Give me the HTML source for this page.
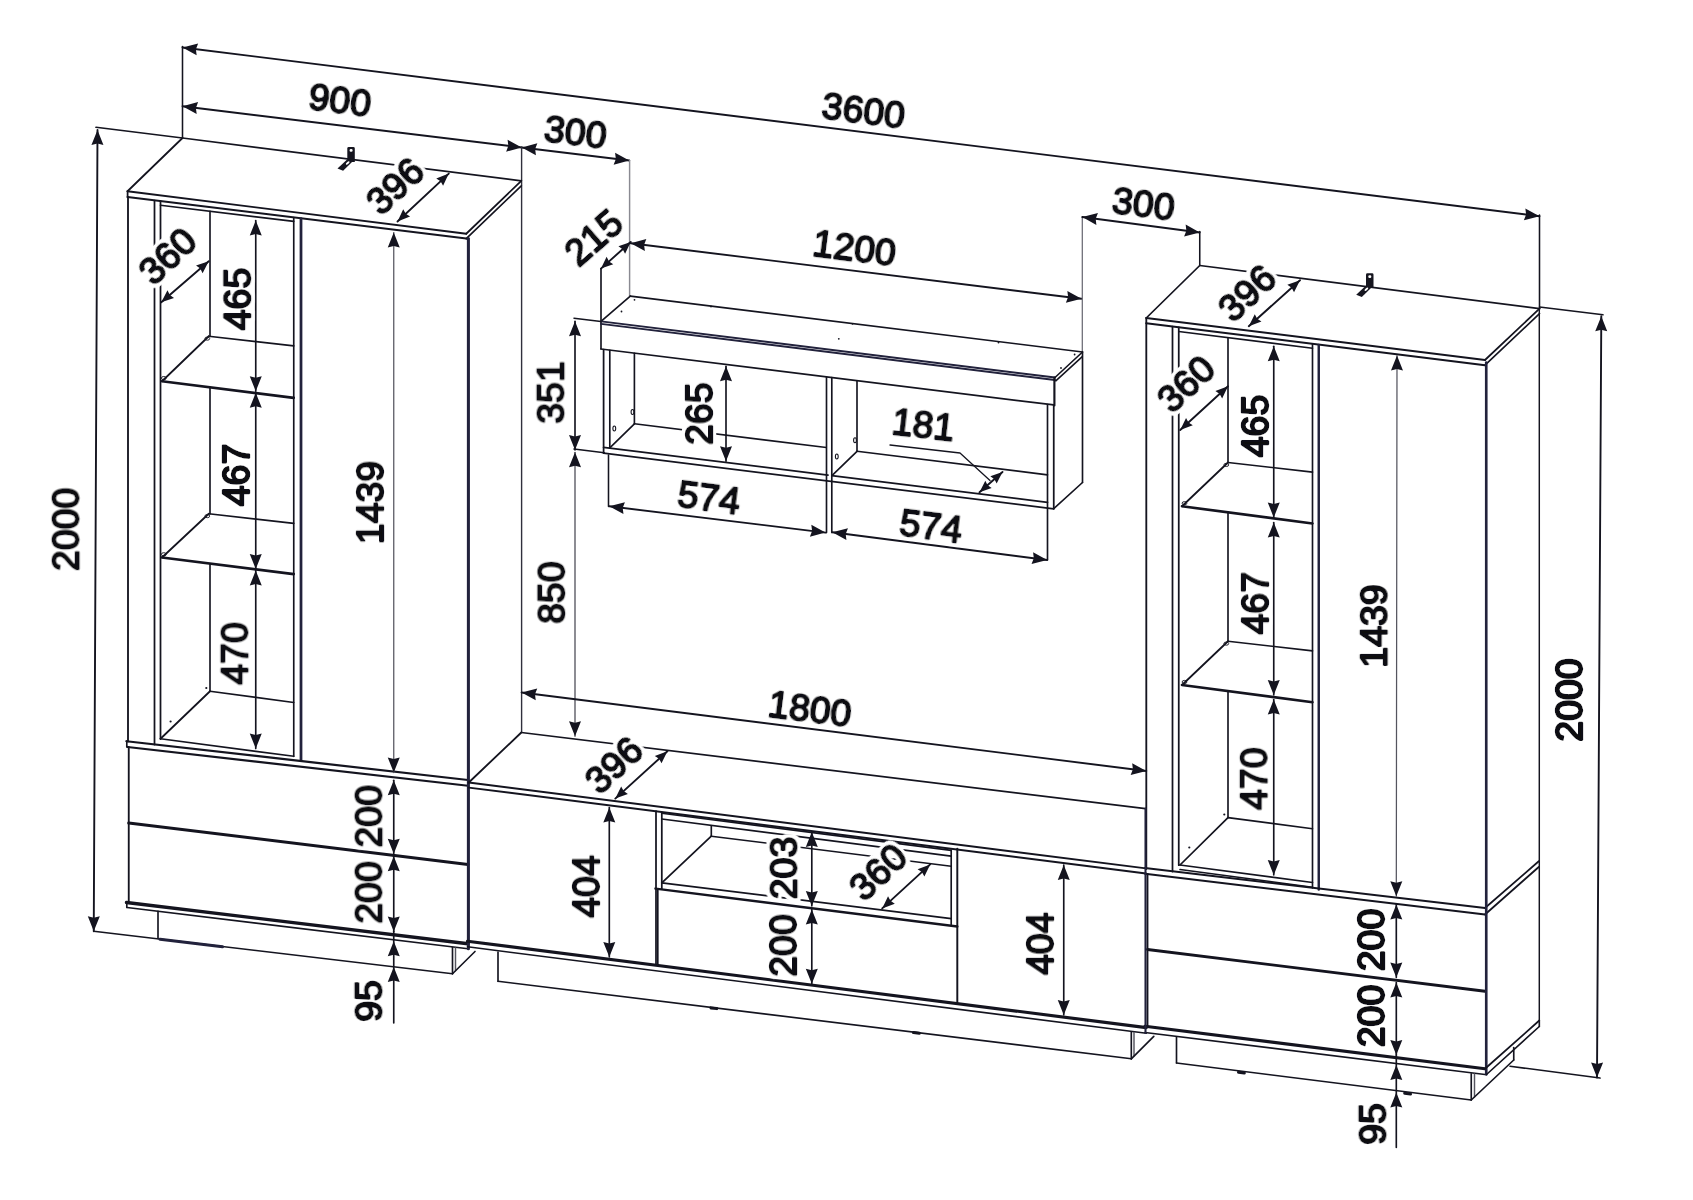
<!DOCTYPE html>
<html lang="ru">
<head>
<meta charset="utf-8">
<title>Схема стенки 3600 × 2000</title>
<style>
html,body{margin:0;padding:0;background:#fff;}
body{width:1693px;height:1200px;overflow:hidden;}
svg{display:block;}
svg line,svg polyline{stroke-linecap:round;stroke-linejoin:round;}
svg text{font-family:"Liberation Sans",Arial,Helvetica,sans-serif;fill:#0b0b12;stroke:#0b0b12;text-anchor:middle;stroke-linejoin:round;}
</style>
</head>
<body>
<svg width="1693" height="1200" viewBox="0 0 1693 1200">
<rect width="1693" height="1200" fill="#fff"/>
<g id="lines">
<line x1="182.50" y1="47.50" x2="1539.50" y2="216.25" stroke="#14141f" stroke-width="1.9"/>
<polygon points="182.50,47.50 198.13,43.40 195.90,49.17 196.64,55.31" fill="#14141f"/>
<polygon points="1539.50,216.25 1523.87,220.35 1526.10,214.58 1525.36,208.44" fill="#14141f"/>
<line x1="182.50" y1="46.50" x2="182.50" y2="138.00" stroke="#14141f" stroke-width="1.55"/>
<line x1="1539.50" y1="215.00" x2="1539.50" y2="309.00" stroke="#14141f" stroke-width="1.55"/>
<line x1="182.50" y1="106.25" x2="521.75" y2="147.50" stroke="#14141f" stroke-width="1.9"/>
<polygon points="182.50,106.25 198.11,102.10 195.90,107.88 196.67,114.02" fill="#14141f"/>
<polygon points="521.75,147.50 506.14,151.65 508.35,145.87 507.58,139.73" fill="#14141f"/>
<line x1="521.75" y1="147.50" x2="629.25" y2="160.50" stroke="#14141f" stroke-width="1.9"/>
<polygon points="521.75,147.50 537.36,143.34 535.15,149.12 535.92,155.26" fill="#14141f"/>
<polygon points="629.25,160.50 613.64,164.66 615.85,158.88 615.08,152.74" fill="#14141f"/>
<line x1="521.60" y1="147.50" x2="521.60" y2="732.50" stroke="#30303c" stroke-width="1.4"/>
<line x1="629.60" y1="160.50" x2="629.60" y2="296.00" stroke="#8a8a92" stroke-width="1.45"/>
<line x1="630.70" y1="242.00" x2="601.00" y2="268.60" stroke="#14141f" stroke-width="1.9"/>
<polygon points="630.70,242.00 625.10,253.73 622.65,249.21 618.43,246.28" fill="#14141f"/>
<polygon points="601.00,268.60 606.60,256.87 609.05,261.39 613.27,264.32" fill="#14141f"/>
<line x1="601.00" y1="268.60" x2="601.00" y2="349.00" stroke="#14141f" stroke-width="1.65"/>
<line x1="630.70" y1="243.20" x2="1081.50" y2="298.75" stroke="#14141f" stroke-width="1.9"/>
<polygon points="630.70,243.20 646.32,239.08 644.10,244.85 644.85,250.99" fill="#14141f"/>
<polygon points="1081.50,298.75 1065.88,302.87 1068.10,297.10 1067.35,290.96" fill="#14141f"/>
<line x1="1082.30" y1="217.00" x2="1082.30" y2="352.50" stroke="#6a6a74" stroke-width="1.25"/>
<line x1="1082.30" y1="217.00" x2="1199.75" y2="232.50" stroke="#14141f" stroke-width="1.9"/>
<polygon points="1082.30,217.00 1097.96,213.01 1095.68,218.77 1096.39,224.91" fill="#14141f"/>
<polygon points="1199.75,232.50 1184.09,236.49 1186.37,230.73 1185.66,224.59" fill="#14141f"/>
<line x1="1199.75" y1="231.50" x2="1199.75" y2="265.50" stroke="#14141f" stroke-width="1.55"/>
<line x1="97.50" y1="130.00" x2="93.75" y2="931.25" stroke="#14141f" stroke-width="1.9"/>
<polygon points="97.50,130.00 103.43,145.03 97.44,143.50 91.43,144.97" fill="#14141f"/>
<polygon points="93.75,931.25 87.82,916.22 93.81,917.75 99.82,916.28" fill="#14141f"/>
<line x1="96.00" y1="127.30" x2="182.50" y2="138.00" stroke="#14141f" stroke-width="1.65"/>
<line x1="127.50" y1="191.25" x2="182.50" y2="138.00" stroke="#14141f" stroke-width="1.75"/>
<line x1="127.50" y1="191.25" x2="466.25" y2="233.75" stroke="#14141f" stroke-width="1.95"/>
<line x1="466.25" y1="233.75" x2="521.30" y2="180.80" stroke="#14141f" stroke-width="1.75"/>
<line x1="182.50" y1="138.00" x2="521.30" y2="180.80" stroke="#14141f" stroke-width="1.75"/>
<line x1="127.50" y1="197.00" x2="466.25" y2="238.60" stroke="#14141f" stroke-width="2.0500000000000003"/>
<line x1="127.60" y1="191.25" x2="127.60" y2="197.00" stroke="#14141f" stroke-width="1.75"/>
<line x1="466.25" y1="238.60" x2="521.30" y2="185.80" stroke="#14141f" stroke-width="1.65"/>
<line x1="128.00" y1="197.00" x2="128.00" y2="741.50" stroke="#14141f" stroke-width="1.8499999999999999"/>
<line x1="154.50" y1="200.50" x2="154.50" y2="744.50" stroke="#14141f" stroke-width="1.75"/>
<line x1="160.50" y1="201.20" x2="160.50" y2="739.00" stroke="#14141f" stroke-width="1.75"/>
<line x1="160.50" y1="205.30" x2="293.75" y2="221.40" stroke="#14141f" stroke-width="1.65"/>
<line x1="210.00" y1="211.40" x2="210.00" y2="336.50" stroke="#14141f" stroke-width="1.65"/>
<line x1="210.00" y1="387.50" x2="210.00" y2="514.00" stroke="#14141f" stroke-width="1.65"/>
<line x1="210.00" y1="563.70" x2="210.00" y2="691.30" stroke="#14141f" stroke-width="1.65"/>
<line x1="293.75" y1="217.60" x2="293.75" y2="756.30" stroke="#14141f" stroke-width="1.65"/>
<line x1="301.00" y1="218.50" x2="301.00" y2="760.00" stroke="#22223c" stroke-width="2.75"/>
<line x1="162.00" y1="381.25" x2="293.75" y2="397.85" stroke="#14141f" stroke-width="2.6500000000000004"/>
<line x1="162.00" y1="381.25" x2="208.75" y2="336.25" stroke="#14141f" stroke-width="1.75"/>
<line x1="208.75" y1="336.25" x2="293.75" y2="345.85" stroke="#14141f" stroke-width="1.65"/>
<ellipse cx="163.8" cy="378.1" rx="2.4" ry="1.6" fill="none" stroke="#14141f" stroke-width="0.9"/>
<ellipse cx="207.3" cy="338.6" rx="2.4" ry="1.6" fill="none" stroke="#14141f" stroke-width="0.9"/>
<line x1="162.00" y1="557.50" x2="293.75" y2="574.10" stroke="#14141f" stroke-width="2.6500000000000004"/>
<line x1="162.00" y1="557.50" x2="208.75" y2="513.75" stroke="#14141f" stroke-width="1.75"/>
<line x1="208.75" y1="513.75" x2="293.75" y2="523.35" stroke="#14141f" stroke-width="1.65"/>
<ellipse cx="163.8" cy="554.3" rx="2.4" ry="1.6" fill="none" stroke="#14141f" stroke-width="0.9"/>
<ellipse cx="207.3" cy="516.1" rx="2.4" ry="1.6" fill="none" stroke="#14141f" stroke-width="0.9"/>
<line x1="160.50" y1="738.75" x2="210.00" y2="691.25" stroke="#14141f" stroke-width="1.75"/>
<line x1="210.00" y1="691.25" x2="293.75" y2="702.50" stroke="#14141f" stroke-width="1.65"/>
<line x1="160.50" y1="738.75" x2="293.75" y2="756.25" stroke="#14141f" stroke-width="1.75"/>
<circle cx="206.30" cy="688.00" r="1.1" fill="#14141f"/>
<circle cx="170.60" cy="721.50" r="1.1" fill="#14141f"/>
<line x1="126.50" y1="741.25" x2="468.00" y2="780.00" stroke="#14141f" stroke-width="2.25"/>
<line x1="127.50" y1="747.00" x2="468.00" y2="785.75" stroke="#14141f" stroke-width="2.25"/>
<line x1="126.80" y1="741.25" x2="126.80" y2="747.00" stroke="#14141f" stroke-width="1.65"/>
<line x1="128.75" y1="747.00" x2="128.75" y2="903.00" stroke="#14141f" stroke-width="1.8499999999999999"/>
<line x1="128.75" y1="823.00" x2="468.00" y2="864.50" stroke="#14141f" stroke-width="3.0500000000000003"/>
<line x1="126.50" y1="902.50" x2="468.00" y2="943.75" stroke="#14141f" stroke-width="3.35"/>
<line x1="127.00" y1="907.50" x2="468.00" y2="948.80" stroke="#14141f" stroke-width="1.65"/>
<line x1="126.80" y1="902.50" x2="126.80" y2="907.50" stroke="#14141f" stroke-width="1.65"/>
<line x1="468.40" y1="238.60" x2="468.40" y2="948.80" stroke="#22223c" stroke-width="3.0500000000000003"/>
<line x1="158.00" y1="911.30" x2="158.00" y2="938.50" stroke="#14141f" stroke-width="1.65"/>
<line x1="93.75" y1="931.25" x2="452.50" y2="973.75" stroke="#14141f" stroke-width="1.65"/>
<line x1="160.00" y1="939.20" x2="222.50" y2="946.80" stroke="#22223c" stroke-width="3.0500000000000003"/>
<line x1="452.50" y1="947.50" x2="452.50" y2="973.75" stroke="#14141f" stroke-width="1.65"/>
<line x1="455.50" y1="948.00" x2="455.50" y2="970.80" stroke="#55555f" stroke-width="1.45"/>
<line x1="452.50" y1="973.75" x2="475.00" y2="951.50" stroke="#14141f" stroke-width="1.65"/>
<path d="M347.30,148.50 q0,-1.4 1.4,-1.4 h4.7 q1.4,0 1.4,1.4 v13.4 h-7.5 z" fill="#15151f"/>
<rect x="349.60" y="149.10" width="3.0" height="2.6" rx="1.2" fill="#fff"/>
<polygon points="347.10,159.60 352.30,161.70 343.10,170.70 337.50,168.50" fill="#15151f"/>
<ellipse cx="347.70" cy="163.00" rx="2.3" ry="1.0" fill="#fff" transform="rotate(-42 347.70 163.00)"/>
<line x1="397.50" y1="221.50" x2="448.80" y2="173.60" stroke="#14141f" stroke-width="1.9"/>
<polygon points="397.50,221.50 403.22,209.31 405.72,213.82 410.05,216.62" fill="#14141f"/>
<polygon points="448.80,173.60 443.08,185.79 440.58,181.28 436.25,178.48" fill="#14141f"/>
<line x1="161.30" y1="302.30" x2="208.75" y2="261.20" stroke="#14141f" stroke-width="1.9"/>
<polygon points="161.30,302.30 167.47,290.34 169.80,294.93 174.02,297.90" fill="#14141f"/>
<polygon points="208.75,261.20 202.58,273.16 200.25,268.57 196.03,265.60" fill="#14141f"/>
<line x1="255.75" y1="220.50" x2="255.75" y2="391.30" stroke="#14141f" stroke-width="1.65"/>
<polygon points="255.75,220.50 261.75,235.50 255.75,234.00 249.75,235.50" fill="#14141f"/>
<polygon points="255.75,391.30 249.75,376.30 255.75,377.80 261.75,376.30" fill="#14141f"/>
<line x1="255.75" y1="392.80" x2="255.75" y2="568.90" stroke="#14141f" stroke-width="1.65"/>
<polygon points="255.75,392.80 261.75,407.80 255.75,406.30 249.75,407.80" fill="#14141f"/>
<polygon points="255.75,568.90 249.75,553.90 255.75,555.40 261.75,553.90" fill="#14141f"/>
<line x1="255.75" y1="570.40" x2="255.75" y2="748.60" stroke="#14141f" stroke-width="1.65"/>
<polygon points="255.75,570.40 261.75,585.40 255.75,583.90 249.75,585.40" fill="#14141f"/>
<polygon points="255.75,748.60 249.75,733.60 255.75,735.10 261.75,733.60" fill="#14141f"/>
<line x1="393.75" y1="232.50" x2="393.75" y2="772.50" stroke="#55555f" stroke-width="1.25"/>
<polygon points="393.75,232.50 399.75,247.50 393.75,246.00 387.75,247.50" fill="#14141f"/>
<polygon points="393.75,772.50 387.75,757.50 393.75,759.00 399.75,757.50" fill="#14141f"/>
<line x1="393.75" y1="780.30" x2="393.75" y2="853.75" stroke="#14141f" stroke-width="1.65"/>
<polygon points="393.75,780.30 399.75,795.30 393.75,793.80 387.75,795.30" fill="#14141f"/>
<polygon points="393.75,853.75 387.75,838.75 393.75,840.25 399.75,838.75" fill="#14141f"/>
<line x1="393.75" y1="856.30" x2="393.75" y2="931.50" stroke="#14141f" stroke-width="1.65"/>
<polygon points="393.75,856.30 399.75,871.30 393.75,869.80 387.75,871.30" fill="#14141f"/>
<polygon points="393.75,931.50 387.75,916.50 393.75,918.00 399.75,916.50" fill="#14141f"/>
<line x1="393.75" y1="931.50" x2="393.75" y2="1023.00" stroke="#14141f" stroke-width="1.65"/>
<polygon points="393.75,941.30 399.75,956.30 393.75,954.80 387.75,956.30" fill="#14141f"/>
<polygon points="393.75,967.00 399.75,982.00 393.75,980.50 387.75,982.00" fill="#14141f"/>
<line x1="601.00" y1="321.40" x2="630.30" y2="296.10" stroke="#14141f" stroke-width="1.65"/>
<line x1="630.30" y1="296.10" x2="1082.50" y2="351.99" stroke="#14141f" stroke-width="1.65"/>
<line x1="601.00" y1="321.40" x2="1055.00" y2="377.51" stroke="#22223c" stroke-width="1.95"/>
<line x1="601.00" y1="323.90" x2="1055.00" y2="380.01" stroke="#22223c" stroke-width="1.95"/>
<line x1="1055.00" y1="377.51" x2="1082.50" y2="351.99" stroke="#14141f" stroke-width="1.65"/>
<line x1="1055.80" y1="380.81" x2="1082.30" y2="356.59" stroke="#14141f" stroke-width="1.55"/>
<line x1="601.00" y1="349.00" x2="1053.75" y2="404.96" stroke="#14141f" stroke-width="1.75"/>
<line x1="1054.40" y1="377.51" x2="1054.40" y2="405.50" stroke="#14141f" stroke-width="2.15"/>
<line x1="574.00" y1="318.20" x2="601.00" y2="321.40" stroke="#14141f" stroke-width="1.55"/>
<line x1="574.00" y1="449.00" x2="604.30" y2="452.80" stroke="#14141f" stroke-width="1.55"/>
<line x1="603.60" y1="349.50" x2="603.60" y2="453.20" stroke="#14141f" stroke-width="1.75"/>
<line x1="609.80" y1="350.30" x2="609.80" y2="447.80" stroke="#14141f" stroke-width="1.65"/>
<line x1="634.40" y1="353.30" x2="634.40" y2="423.80" stroke="#14141f" stroke-width="1.65"/>
<line x1="603.60" y1="447.40" x2="828.00" y2="475.14" stroke="#14141f" stroke-width="1.75"/>
<line x1="603.60" y1="453.20" x2="1053.75" y2="508.84" stroke="#14141f" stroke-width="1.75"/>
<line x1="831.80" y1="475.61" x2="1047.50" y2="502.27" stroke="#14141f" stroke-width="1.75"/>
<line x1="609.80" y1="447.80" x2="634.40" y2="423.80" stroke="#14141f" stroke-width="1.65"/>
<line x1="634.40" y1="423.80" x2="826.30" y2="447.52" stroke="#14141f" stroke-width="1.65"/>
<line x1="826.50" y1="377.06" x2="826.50" y2="532.60" stroke="#14141f" stroke-width="1.65"/>
<line x1="831.80" y1="377.66" x2="831.80" y2="532.60" stroke="#14141f" stroke-width="1.65"/>
<line x1="857.00" y1="380.76" x2="857.00" y2="451.30" stroke="#14141f" stroke-width="1.65"/>
<line x1="832.20" y1="475.40" x2="857.00" y2="451.30" stroke="#14141f" stroke-width="1.65"/>
<line x1="857.00" y1="451.30" x2="1047.50" y2="474.85" stroke="#14141f" stroke-width="1.65"/>
<line x1="1047.50" y1="404.60" x2="1047.50" y2="560.00" stroke="#14141f" stroke-width="1.65"/>
<line x1="1053.75" y1="405.30" x2="1053.75" y2="508.60" stroke="#14141f" stroke-width="1.75"/>
<line x1="1082.50" y1="351.99" x2="1082.50" y2="482.50" stroke="#14141f" stroke-width="1.65"/>
<line x1="1053.75" y1="508.60" x2="1082.50" y2="482.50" stroke="#14141f" stroke-width="1.65"/>
<circle cx="634.50" cy="299.80" r="0.9" fill="#14141f"/>
<circle cx="621.50" cy="311.50" r="0.9" fill="#14141f"/>
<circle cx="711.00" cy="306.50" r="0.9" fill="#14141f"/>
<circle cx="838.80" cy="338.80" r="0.9" fill="#14141f"/>
<circle cx="1074.60" cy="354.50" r="0.9" fill="#14141f"/>
<circle cx="1061.00" cy="368.00" r="0.9" fill="#14141f"/>
<circle cx="998.50" cy="342.60" r="0.9" fill="#14141f"/>
<circle cx="852.50" cy="323.80" r="0.9" fill="#14141f"/>
<ellipse cx="614.3" cy="428.5" rx="1.4" ry="2.5" fill="none" stroke="#14141f" stroke-width="1.1"/>
<ellipse cx="632.5" cy="412" rx="1.4" ry="2.5" fill="none" stroke="#14141f" stroke-width="1.1"/>
<ellipse cx="836.8" cy="456.5" rx="1.4" ry="2.5" fill="none" stroke="#14141f" stroke-width="1.1"/>
<ellipse cx="855" cy="440.2" rx="1.4" ry="2.5" fill="none" stroke="#14141f" stroke-width="1.1"/>
<line x1="575.00" y1="321.30" x2="575.00" y2="450.00" stroke="#14141f" stroke-width="1.65"/>
<polygon points="575.00,321.30 581.00,336.30 575.00,334.80 569.00,336.30" fill="#14141f"/>
<polygon points="575.00,450.00 569.00,435.00 575.00,436.50 581.00,435.00" fill="#14141f"/>
<line x1="575.00" y1="452.30" x2="575.00" y2="736.30" stroke="#55555f" stroke-width="1.35"/>
<polygon points="575.00,452.30 581.00,467.30 575.00,465.80 569.00,467.30" fill="#14141f"/>
<polygon points="575.00,736.30 569.00,721.30 575.00,722.80 581.00,721.30" fill="#14141f"/>
<line x1="726.00" y1="366.30" x2="726.00" y2="461.30" stroke="#14141f" stroke-width="1.65"/>
<polygon points="726.00,366.30 732.00,381.30 726.00,379.80 720.00,381.30" fill="#14141f"/>
<polygon points="726.00,461.30 720.00,446.30 726.00,447.80 732.00,446.30" fill="#14141f"/>
<line x1="609.30" y1="506.30" x2="825.50" y2="532.60" stroke="#14141f" stroke-width="1.9"/>
<polygon points="609.30,506.30 624.91,502.16 622.70,507.93 623.47,514.07" fill="#14141f"/>
<polygon points="825.50,532.60 809.89,536.74 812.10,530.97 811.33,524.83" fill="#14141f"/>
<line x1="832.30" y1="532.20" x2="1047.20" y2="560.00" stroke="#14141f" stroke-width="1.9"/>
<polygon points="832.30,532.20 847.95,528.17 845.69,533.93 846.41,540.07" fill="#14141f"/>
<polygon points="1047.20,560.00 1031.55,564.03 1033.81,558.27 1033.09,552.13" fill="#14141f"/>
<line x1="608.50" y1="455.00" x2="608.50" y2="506.50" stroke="#14141f" stroke-width="1.55"/>
<polyline points="890.00,445.00 960.00,453.00 990.00,480.50" fill="none" stroke="#14141f" stroke-width="1.3"/>
<line x1="979.50" y1="492.30" x2="1002.50" y2="472.00" stroke="#14141f" stroke-width="1.9"/>
<polygon points="979.50,492.30 985.32,480.76 987.60,485.15 991.67,487.96" fill="#14141f"/>
<polygon points="1002.50,472.00 996.68,483.54 994.40,479.15 990.33,476.34" fill="#14141f"/>
<line x1="468.75" y1="782.50" x2="521.30" y2="732.50" stroke="#14141f" stroke-width="1.8499999999999999"/>
<line x1="521.30" y1="732.50" x2="1145.50" y2="808.60" stroke="#14141f" stroke-width="1.65"/>
<line x1="468.75" y1="782.50" x2="1146.00" y2="868.38" stroke="#14141f" stroke-width="1.95"/>
<line x1="468.75" y1="787.60" x2="1146.00" y2="873.48" stroke="#14141f" stroke-width="1.95"/>
<line x1="521.60" y1="692.50" x2="1146.30" y2="771.00" stroke="#14141f" stroke-width="1.9"/>
<polygon points="521.60,692.50 537.23,688.42 534.99,694.18 535.73,700.32" fill="#14141f"/>
<polygon points="1146.30,771.00 1130.67,775.08 1132.91,769.32 1132.17,763.18" fill="#14141f"/>
<line x1="615.30" y1="798.60" x2="667.40" y2="751.20" stroke="#14141f" stroke-width="1.9"/>
<polygon points="615.30,798.60 621.18,786.49 623.62,791.03 627.91,793.89" fill="#14141f"/>
<polygon points="667.40,751.20 661.52,763.31 659.08,758.77 654.79,755.91" fill="#14141f"/>
<line x1="656.00" y1="811.00" x2="656.00" y2="965.20" stroke="#14141f" stroke-width="1.75"/>
<line x1="661.80" y1="812.30" x2="661.80" y2="888.60" stroke="#14141f" stroke-width="1.75"/>
<line x1="657.80" y1="889.20" x2="657.80" y2="965.50" stroke="#14141f" stroke-width="1.65"/>
<line x1="609.30" y1="807.60" x2="609.30" y2="957.00" stroke="#14141f" stroke-width="1.65"/>
<polygon points="609.30,807.60 615.30,822.60 609.30,821.10 603.30,822.60" fill="#14141f"/>
<polygon points="609.30,957.00 603.30,942.00 609.30,943.50 615.30,942.00" fill="#14141f"/>
<line x1="661.80" y1="813.20" x2="951.20" y2="850.39" stroke="#14141f" stroke-width="1.65"/>
<line x1="661.80" y1="819.00" x2="951.20" y2="856.19" stroke="#14141f" stroke-width="1.65"/>
<line x1="711.30" y1="825.80" x2="711.30" y2="836.20" stroke="#14141f" stroke-width="1.65"/>
<line x1="661.80" y1="882.80" x2="711.30" y2="836.20" stroke="#14141f" stroke-width="1.75"/>
<line x1="711.30" y1="836.20" x2="951.20" y2="866.20" stroke="#14141f" stroke-width="1.55"/>
<line x1="661.80" y1="882.80" x2="951.20" y2="918.60" stroke="#14141f" stroke-width="1.75"/>
<line x1="655.50" y1="888.60" x2="957.30" y2="926.50" stroke="#14141f" stroke-width="2.45"/>
<line x1="951.20" y1="850.00" x2="951.20" y2="924.60" stroke="#14141f" stroke-width="1.65"/>
<line x1="957.30" y1="848.60" x2="957.30" y2="1002.50" stroke="#14141f" stroke-width="1.95"/>
<line x1="811.80" y1="832.00" x2="811.80" y2="906.00" stroke="#14141f" stroke-width="1.65"/>
<polygon points="811.80,832.00 817.80,847.00 811.80,845.50 805.80,847.00" fill="#14141f"/>
<polygon points="811.80,906.00 805.80,891.00 811.80,892.50 817.80,891.00" fill="#14141f"/>
<line x1="811.80" y1="909.50" x2="811.80" y2="983.80" stroke="#14141f" stroke-width="1.65"/>
<polygon points="811.80,909.50 817.80,924.50 811.80,923.00 805.80,924.50" fill="#14141f"/>
<polygon points="811.80,983.80 805.80,968.80 811.80,970.30 817.80,968.80" fill="#14141f"/>
<line x1="882.20" y1="908.40" x2="930.20" y2="864.40" stroke="#14141f" stroke-width="1.9"/>
<polygon points="882.20,908.40 888.04,896.27 890.49,900.80 894.79,903.64" fill="#14141f"/>
<polygon points="930.20,864.40 924.36,876.53 921.91,872.00 917.61,869.16" fill="#14141f"/>
<line x1="1063.75" y1="865.00" x2="1063.75" y2="1015.00" stroke="#14141f" stroke-width="1.65"/>
<polygon points="1063.75,865.00 1069.75,880.00 1063.75,878.50 1057.75,880.00" fill="#14141f"/>
<polygon points="1063.75,1015.00 1057.75,1000.00 1063.75,1001.50 1069.75,1000.00" fill="#14141f"/>
<line x1="467.50" y1="941.30" x2="1146.30" y2="1027.60" stroke="#14141f" stroke-width="3.1500000000000004"/>
<line x1="467.50" y1="946.80" x2="1146.30" y2="1033.20" stroke="#14141f" stroke-width="1.55"/>
<line x1="498.00" y1="952.00" x2="498.00" y2="981.30" stroke="#14141f" stroke-width="1.65"/>
<line x1="498.00" y1="981.30" x2="1131.30" y2="1058.80" stroke="#14141f" stroke-width="1.65"/>
<line x1="1131.30" y1="1032.00" x2="1131.30" y2="1058.80" stroke="#14141f" stroke-width="1.65"/>
<line x1="1134.00" y1="1032.40" x2="1134.00" y2="1056.00" stroke="#55555f" stroke-width="1.45"/>
<line x1="1131.30" y1="1058.80" x2="1153.80" y2="1036.30" stroke="#14141f" stroke-width="1.65"/>
<line x1="711.00" y1="1007.90" x2="716.80" y2="1008.60" stroke="#14141f" stroke-width="3.0500000000000003"/>
<line x1="913.50" y1="1032.60" x2="919.30" y2="1033.30" stroke="#14141f" stroke-width="3.0500000000000003"/>
<line x1="1146.25" y1="318.00" x2="1199.75" y2="265.50" stroke="#14141f" stroke-width="1.75"/>
<line x1="1146.25" y1="318.00" x2="1485.00" y2="360.00" stroke="#14141f" stroke-width="1.95"/>
<line x1="1485.00" y1="360.00" x2="1539.50" y2="308.60" stroke="#14141f" stroke-width="1.75"/>
<line x1="1199.75" y1="265.50" x2="1539.50" y2="308.60" stroke="#14141f" stroke-width="1.65"/>
<line x1="1146.25" y1="323.20" x2="1485.00" y2="365.20" stroke="#14141f" stroke-width="2.0500000000000003"/>
<line x1="1485.00" y1="365.20" x2="1539.50" y2="313.60" stroke="#14141f" stroke-width="1.65"/>
<line x1="1539.50" y1="307.00" x2="1603.00" y2="314.80" stroke="#14141f" stroke-width="1.55"/>
<line x1="1146.30" y1="318.00" x2="1146.30" y2="869.00" stroke="#14141f" stroke-width="1.8499999999999999"/>
<line x1="1172.50" y1="326.50" x2="1172.50" y2="871.50" stroke="#14141f" stroke-width="1.75"/>
<line x1="1178.75" y1="327.30" x2="1178.75" y2="865.20" stroke="#14141f" stroke-width="1.75"/>
<line x1="1178.75" y1="331.50" x2="1312.50" y2="348.20" stroke="#14141f" stroke-width="1.65"/>
<line x1="1228.00" y1="337.80" x2="1228.00" y2="462.70" stroke="#14141f" stroke-width="1.65"/>
<line x1="1228.00" y1="512.00" x2="1228.00" y2="641.40" stroke="#14141f" stroke-width="1.65"/>
<line x1="1228.00" y1="691.00" x2="1228.00" y2="817.60" stroke="#14141f" stroke-width="1.65"/>
<line x1="1312.50" y1="344.00" x2="1312.50" y2="888.00" stroke="#14141f" stroke-width="1.65"/>
<line x1="1318.75" y1="345.00" x2="1318.75" y2="889.50" stroke="#22223c" stroke-width="2.45"/>
<line x1="1182.00" y1="506.25" x2="1312.50" y2="523.45" stroke="#14141f" stroke-width="2.6500000000000004"/>
<line x1="1182.00" y1="506.25" x2="1228.00" y2="462.50" stroke="#14141f" stroke-width="1.75"/>
<line x1="1228.00" y1="462.50" x2="1312.50" y2="472.10" stroke="#14141f" stroke-width="1.65"/>
<ellipse cx="1184.5" cy="503.2" rx="2.4" ry="1.6" fill="none" stroke="#14141f" stroke-width="0.9"/>
<ellipse cx="1226.3" cy="464.9" rx="2.4" ry="1.6" fill="none" stroke="#14141f" stroke-width="0.9"/>
<line x1="1182.00" y1="685.00" x2="1312.50" y2="702.20" stroke="#14141f" stroke-width="2.6500000000000004"/>
<line x1="1182.00" y1="685.00" x2="1228.00" y2="641.25" stroke="#14141f" stroke-width="1.75"/>
<line x1="1228.00" y1="641.25" x2="1312.50" y2="650.85" stroke="#14141f" stroke-width="1.65"/>
<ellipse cx="1184.5" cy="682.0" rx="2.4" ry="1.6" fill="none" stroke="#14141f" stroke-width="0.9"/>
<ellipse cx="1226.3" cy="643.6" rx="2.4" ry="1.6" fill="none" stroke="#14141f" stroke-width="0.9"/>
<line x1="1180.00" y1="865.00" x2="1228.00" y2="817.60" stroke="#14141f" stroke-width="1.75"/>
<line x1="1228.00" y1="817.60" x2="1312.50" y2="828.75" stroke="#14141f" stroke-width="1.65"/>
<line x1="1180.00" y1="865.00" x2="1312.50" y2="882.50" stroke="#14141f" stroke-width="1.75"/>
<line x1="1180.00" y1="869.60" x2="1312.50" y2="887.20" stroke="#14141f" stroke-width="1.55"/>
<circle cx="1224.30" cy="814.50" r="1.1" fill="#14141f"/>
<circle cx="1189.30" cy="847.50" r="1.1" fill="#14141f"/>
<line x1="1145.00" y1="868.00" x2="1485.00" y2="908.00" stroke="#14141f" stroke-width="1.95"/>
<line x1="1145.00" y1="873.75" x2="1485.00" y2="914.50" stroke="#14141f" stroke-width="1.95"/>
<line x1="1485.00" y1="908.00" x2="1538.75" y2="861.25" stroke="#14141f" stroke-width="1.75"/>
<line x1="1485.00" y1="914.50" x2="1538.75" y2="867.00" stroke="#14141f" stroke-width="1.75"/>
<line x1="1147.50" y1="874.00" x2="1147.50" y2="1027.00" stroke="#14141f" stroke-width="1.8499999999999999"/>
<line x1="1147.50" y1="949.50" x2="1485.00" y2="991.25" stroke="#14141f" stroke-width="2.85"/>
<line x1="1145.00" y1="1026.25" x2="1485.00" y2="1068.75" stroke="#14141f" stroke-width="3.0500000000000003"/>
<line x1="1145.00" y1="1032.50" x2="1485.00" y2="1074.50" stroke="#14141f" stroke-width="1.65"/>
<line x1="1486.25" y1="362.50" x2="1486.25" y2="1074.50" stroke="#22223c" stroke-width="2.6500000000000004"/>
<line x1="1539.30" y1="308.60" x2="1539.30" y2="1021.00" stroke="#14141f" stroke-width="1.45"/>
<line x1="1485.00" y1="1068.75" x2="1539.30" y2="1020.50" stroke="#14141f" stroke-width="1.75"/>
<line x1="1486.50" y1="1074.50" x2="1539.30" y2="1026.50" stroke="#14141f" stroke-width="1.65"/>
<line x1="1539.30" y1="1021.00" x2="1539.30" y2="1026.50" stroke="#14141f" stroke-width="1.65"/>
<line x1="1145.50" y1="808.60" x2="1145.50" y2="1033.00" stroke="#22223c" stroke-width="2.0500000000000003"/>
<line x1="1176.50" y1="1037.50" x2="1176.50" y2="1063.00" stroke="#14141f" stroke-width="1.65"/>
<line x1="1176.50" y1="1063.00" x2="1471.25" y2="1100.00" stroke="#14141f" stroke-width="1.65"/>
<line x1="1471.25" y1="1073.75" x2="1471.25" y2="1100.00" stroke="#14141f" stroke-width="1.65"/>
<line x1="1474.50" y1="1074.00" x2="1474.50" y2="1097.00" stroke="#55555f" stroke-width="1.45"/>
<line x1="1471.25" y1="1100.00" x2="1513.75" y2="1060.00" stroke="#14141f" stroke-width="1.65"/>
<line x1="1513.75" y1="1047.50" x2="1513.75" y2="1060.00" stroke="#14141f" stroke-width="1.65"/>
<line x1="1510.00" y1="1066.25" x2="1600.00" y2="1078.10" stroke="#14141f" stroke-width="1.55"/>
<line x1="1238.50" y1="1072.30" x2="1244.30" y2="1073.00" stroke="#14141f" stroke-width="3.0500000000000003"/>
<line x1="1404.70" y1="1093.30" x2="1410.50" y2="1094.00" stroke="#14141f" stroke-width="3.0500000000000003"/>
<path d="M1366.00,274.70 q0,-1.4 1.4,-1.4 h4.7 q1.4,0 1.4,1.4 v13.4 h-7.5 z" fill="#15151f"/>
<rect x="1368.30" y="275.30" width="3.0" height="2.6" rx="1.2" fill="#fff"/>
<polygon points="1365.80,285.80 1371.00,287.90 1361.80,296.90 1356.20,294.70" fill="#15151f"/>
<ellipse cx="1366.40" cy="289.20" rx="2.3" ry="1.0" fill="#fff" transform="rotate(-42 1366.40 289.20)"/>
<line x1="1248.80" y1="326.20" x2="1300.00" y2="280.20" stroke="#14141f" stroke-width="1.9"/>
<polygon points="1248.80,326.20 1254.76,314.13 1257.17,318.68 1261.44,321.57" fill="#14141f"/>
<polygon points="1300.00,280.20 1294.04,292.27 1291.63,287.72 1287.36,284.83" fill="#14141f"/>
<line x1="1180.20" y1="430.00" x2="1228.00" y2="386.30" stroke="#14141f" stroke-width="1.9"/>
<polygon points="1180.20,430.00 1186.05,417.88 1188.50,422.41 1192.80,425.26" fill="#14141f"/>
<polygon points="1228.00,386.30 1222.15,398.42 1219.70,393.89 1215.40,391.04" fill="#14141f"/>
<line x1="1273.75" y1="346.30" x2="1273.75" y2="517.50" stroke="#14141f" stroke-width="1.65"/>
<polygon points="1273.75,346.30 1279.75,361.30 1273.75,359.80 1267.75,361.30" fill="#14141f"/>
<polygon points="1273.75,517.50 1267.75,502.50 1273.75,504.00 1279.75,502.50" fill="#14141f"/>
<line x1="1273.75" y1="522.50" x2="1273.75" y2="695.00" stroke="#14141f" stroke-width="1.65"/>
<polygon points="1273.75,522.50 1279.75,537.50 1273.75,536.00 1267.75,537.50" fill="#14141f"/>
<polygon points="1273.75,695.00 1267.75,680.00 1273.75,681.50 1279.75,680.00" fill="#14141f"/>
<line x1="1273.75" y1="699.50" x2="1273.75" y2="875.00" stroke="#14141f" stroke-width="1.65"/>
<polygon points="1273.75,699.50 1279.75,714.50 1273.75,713.00 1267.75,714.50" fill="#14141f"/>
<polygon points="1273.75,875.00 1267.75,860.00 1273.75,861.50 1279.75,860.00" fill="#14141f"/>
<line x1="1397.00" y1="355.50" x2="1396.30" y2="896.30" stroke="#55555f" stroke-width="1.25"/>
<polygon points="1397.00,355.50 1402.98,370.51 1396.98,369.00 1390.98,370.49" fill="#14141f"/>
<polygon points="1396.30,896.30 1390.32,881.29 1396.32,882.80 1402.32,881.31" fill="#14141f"/>
<line x1="1396.30" y1="904.50" x2="1396.30" y2="977.50" stroke="#14141f" stroke-width="1.65"/>
<polygon points="1396.30,904.50 1402.30,919.50 1396.30,918.00 1390.30,919.50" fill="#14141f"/>
<polygon points="1396.30,977.50 1390.30,962.50 1396.30,964.00 1402.30,962.50" fill="#14141f"/>
<line x1="1396.30" y1="982.50" x2="1396.30" y2="1055.00" stroke="#14141f" stroke-width="1.65"/>
<polygon points="1396.30,982.50 1402.30,997.50 1396.30,996.00 1390.30,997.50" fill="#14141f"/>
<polygon points="1396.30,1055.00 1390.30,1040.00 1396.30,1041.50 1402.30,1040.00" fill="#14141f"/>
<line x1="1396.30" y1="1055.00" x2="1396.30" y2="1147.50" stroke="#14141f" stroke-width="1.65"/>
<polygon points="1396.30,1065.00 1402.30,1080.00 1396.30,1078.50 1390.30,1080.00" fill="#14141f"/>
<polygon points="1396.30,1092.50 1402.30,1107.50 1396.30,1106.00 1390.30,1107.50" fill="#14141f"/>
<line x1="1601.30" y1="316.30" x2="1597.00" y2="1077.50" stroke="#14141f" stroke-width="1.9"/>
<polygon points="1601.30,316.30 1607.22,331.33 1601.22,329.80 1595.22,331.27" fill="#14141f"/>
<polygon points="1597.00,1077.50 1591.08,1062.47 1597.08,1064.00 1603.08,1062.53" fill="#14141f"/>
</g>
<defs><filter id="halo" x="-15%" y="-25%" width="130%" height="150%"><feMorphology in="SourceAlpha" operator="dilate" radius="2.6" result="d"/><feFlood flood-color="#ffffff" result="w"/><feComposite in="w" in2="d" operator="in" result="hl"/><feMerge><feMergeNode in="hl"/><feMergeNode in="SourceGraphic"/></feMerge></filter></defs>
<g id="labels" >
<text filter="url(#halo)" transform="translate(863.60,110.40) rotate(7.4)" font-size="37.5" stroke-width="2.3" y="13.42">3600</text>
<text filter="url(#halo)" transform="translate(340.00,100.00) rotate(7.4)" font-size="37.5" stroke-width="2.3" y="13.42">900</text>
<text filter="url(#halo)" transform="translate(575.50,132.00) rotate(7.4)" font-size="37.5" stroke-width="2.3" y="13.42">300</text>
<text filter="url(#halo)" transform="translate(1143.50,203.75) rotate(7.4)" font-size="37.5" stroke-width="2.3" y="13.42">300</text>
<text filter="url(#halo)" transform="translate(854.50,247.90) rotate(7.4)" font-size="37.5" stroke-width="2.3" y="13.42">1200</text>
<text filter="url(#halo)" transform="translate(593.50,237.50) rotate(-41)" font-size="37.5" stroke-width="2.3" y="13.42">215</text>
<text filter="url(#halo)" transform="translate(395.00,186.00) rotate(-43)" font-size="37.5" stroke-width="2.3" y="13.42">396</text>
<text filter="url(#halo)" transform="translate(167.50,256.00) rotate(-43)" font-size="37.5" stroke-width="2.3" y="13.42">360</text>
<text filter="url(#halo)" transform="translate(237.20,299.00) rotate(-90)" font-size="37.5" stroke-width="2.3" y="13.42">465</text>
<text filter="url(#halo)" transform="translate(236.00,475.00) rotate(-90)" font-size="37.5" stroke-width="2.3" y="13.42">467</text>
<text filter="url(#halo)" transform="translate(234.50,653.50) rotate(-90)" font-size="37.5" stroke-width="2.3" y="13.42">470</text>
<text filter="url(#halo)" transform="translate(370.00,502.50) rotate(-90)" font-size="37.5" stroke-width="2.3" y="13.42">1439</text>
<text filter="url(#halo)" transform="translate(65.60,529.30) rotate(-90)" font-size="37.5" stroke-width="2.3" y="13.42">2000</text>
<text filter="url(#halo)" transform="translate(368.50,816.30) rotate(-90)" font-size="37.5" stroke-width="2.3" y="13.42">200</text>
<text filter="url(#halo)" transform="translate(368.50,892.50) rotate(-90)" font-size="37.5" stroke-width="2.3" y="13.42">200</text>
<text filter="url(#halo)" transform="translate(368.50,1001.00) rotate(-90)" font-size="37.5" stroke-width="2.3" y="13.42">95</text>
<text filter="url(#halo)" transform="translate(550.50,392.50) rotate(-90)" font-size="37.5" stroke-width="2.3" y="13.42">351</text>
<text filter="url(#halo)" transform="translate(551.30,592.70) rotate(-90)" font-size="37.5" stroke-width="2.3" y="13.42">850</text>
<text filter="url(#halo)" transform="translate(699.00,413.75) rotate(-90)" font-size="37.5" stroke-width="2.3" y="13.42">265</text>
<text filter="url(#halo)" transform="translate(709.00,497.50) rotate(7.4)" font-size="37.5" stroke-width="2.3" y="13.42">574</text>
<text filter="url(#halo)" transform="translate(931.00,526.00) rotate(7.4)" font-size="37.5" stroke-width="2.3" y="13.42">574</text>
<text filter="url(#halo)" transform="translate(923.30,424.50) rotate(6.5)" font-size="37.5" stroke-width="2.3" y="13.42">181</text>
<text filter="url(#halo)" transform="translate(810.00,708.75) rotate(7.4)" font-size="37.5" stroke-width="2.3" y="13.42">1800</text>
<text filter="url(#halo)" transform="translate(613.75,765.00) rotate(-43)" font-size="37.5" stroke-width="2.3" y="13.42">396</text>
<text filter="url(#halo)" transform="translate(586.00,886.50) rotate(-90)" font-size="37.5" stroke-width="2.3" y="13.42">404</text>
<text filter="url(#halo)" transform="translate(783.50,868.00) rotate(-90)" font-size="37.5" stroke-width="2.3" y="13.42">203</text>
<text filter="url(#halo)" transform="translate(783.00,945.50) rotate(-90)" font-size="37.5" stroke-width="2.3" y="13.42">200</text>
<text filter="url(#halo)" transform="translate(878.00,872.00) rotate(-43)" font-size="37.5" stroke-width="2.3" y="13.42">360</text>
<text filter="url(#halo)" transform="translate(1040.00,943.75) rotate(-90)" font-size="37.5" stroke-width="2.3" y="13.42">404</text>
<text filter="url(#halo)" transform="translate(1186.00,383.75) rotate(-43)" font-size="37.5" stroke-width="2.3" y="13.42">360</text>
<text filter="url(#halo)" transform="translate(1247.00,293.00) rotate(-43)" font-size="37.5" stroke-width="2.3" y="13.42">396</text>
<text filter="url(#halo)" transform="translate(1255.00,426.00) rotate(-90)" font-size="37.5" stroke-width="2.3" y="13.42">465</text>
<text filter="url(#halo)" transform="translate(1255.00,603.20) rotate(-90)" font-size="37.5" stroke-width="2.3" y="13.42">467</text>
<text filter="url(#halo)" transform="translate(1253.75,778.75) rotate(-90)" font-size="37.5" stroke-width="2.3" y="13.42">470</text>
<text filter="url(#halo)" transform="translate(1373.75,626.00) rotate(-90)" font-size="37.5" stroke-width="2.3" y="13.42">1439</text>
<text filter="url(#halo)" transform="translate(1371.00,940.00) rotate(-90)" font-size="37.5" stroke-width="2.3" y="13.42">200</text>
<text filter="url(#halo)" transform="translate(1371.00,1016.00) rotate(-90)" font-size="37.5" stroke-width="2.3" y="13.42">200</text>
<text filter="url(#halo)" transform="translate(1372.50,1124.00) rotate(-90)" font-size="37.5" stroke-width="2.3" y="13.42">95</text>
<text filter="url(#halo)" transform="translate(1569.00,700.00) rotate(-90)" font-size="37.5" stroke-width="2.3" y="13.42">2000</text>
</g>
</svg>
</body>
</html>
